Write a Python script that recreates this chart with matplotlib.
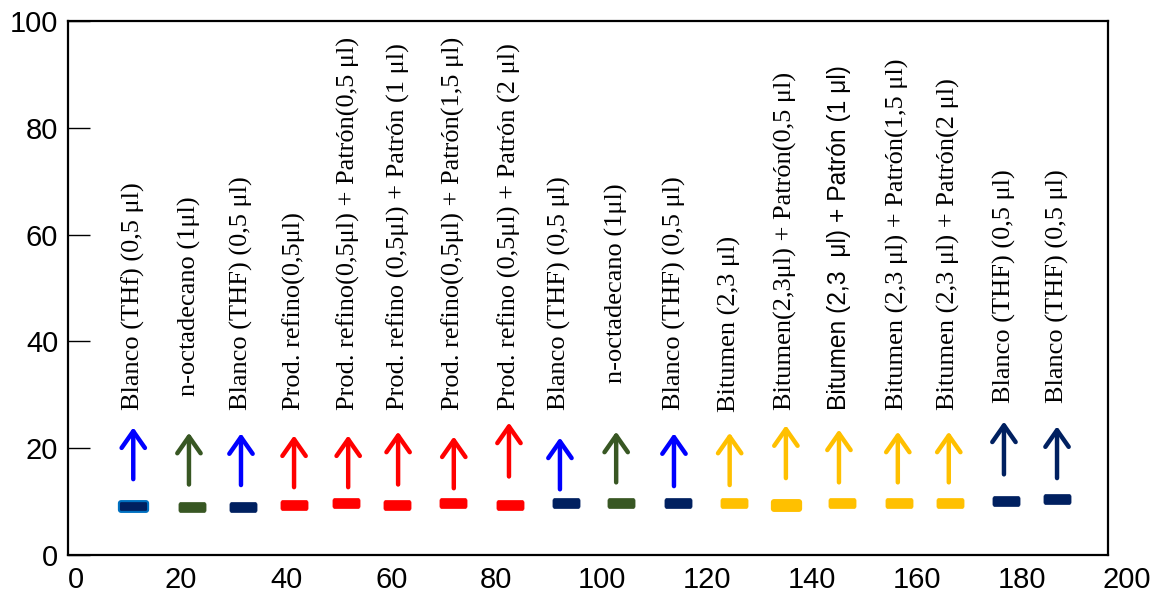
import numpy as np
import matplotlib
matplotlib.use("Agg")
import matplotlib.pyplot as plt
from matplotlib.path import Path

# datos
labels = ["Blanco (THf) (0,5 μl)", "n-octadecano (1μl)", "Blanco (THF) (0,5 μl)",
          "Prod. refino(0,5μl)", "Prod. refino(0,5μl) + Patrón(0,5 μl)",
          "Prod. refino (0,5μl) + Patrón (1 μl)", "Prod. refino(0,5μl) + Patrón(1,5 μl)",
          "Prod. refino (0,5μl) + Patrón (2 μl)", "Blanco (THF) (0,5 μl)",
          "n-octadecano (1μl)", "Blanco (THF) (0,5 μl)", "Bitumen (2,3 μl)",
          "Bitumen(2,3μl) + Patrón(0,5 μl)", "Bitumen (2,3  μl) + Patrón (1 μl)",
          "Bitumen (2,3 μl) + Patrón(1,5 μl)", "Bitumen (2,3 μl) + Patrón(2 μl)",
          "Blanco (THF) (0,5 μl)", "Blanco (THF) (0,5 μl)"]
x_mark = [10.9, 22.1, 31.8, 41.5, 51.4, 61.1, 71.7, 82.6, 93.2, 103.7,
          114.6, 125.2, 135.1, 145.8, 156.6, 166.3, 177.0, 186.7]
y_mark = [9.1, 9.0, 9.0, 9.3, 9.7, 9.3, 9.7, 9.3, 9.7, 9.7,
          9.7, 9.7, 9.3, 9.7, 9.7, 9.8, 10.1, 10.4]
x_arrow = [10.9, 21.5, 31.4, 41.5, 51.8, 61.3, 71.9, 82.4, 92.1, 102.8,
           113.8, 124.4, 135.1, 145.2, 156.4, 166.1, 176.6, 186.7]
arrow_base = [14.2, 13.2, 13.1, 12.7, 12.7, 13.2, 12.5, 14.7, 12.3, 13.6,
              12.9, 13.1, 14.4, 13.6, 13.6, 13.6, 15.1, 14.4]
arrow_tip = [23.9, 22.9, 22.8, 22.4, 22.4, 23.1, 22.2, 24.8, 22.0, 23.1,
             22.8, 22.9, 24.3, 23.5, 23.1, 23.1, 25.0, 24.1]
label_y = [27.2, 29.7, 27.2, 27.2, 27.2, 27.2, 27.2, 27.2, 27.2, 32.3,
           27.2, 26.7, 27.2, 27.2, 27.2, 27.2, 28.5, 28.5]
xticks = [0, 20, 40, 60, 80, 100, 120, 140, 160, 180, 200]

azul = '#0000FF'
verde = '#385723'
marino = '#002060'
rojo = '#FF0000'
oro = '#FFC000'
mark_col = [marino, verde, marino, rojo, rojo, rojo, rojo, rojo, marino, verde,
            marino, oro, oro, oro, oro, oro, marino, marino]
arrow_col = [azul, verde, azul, rojo, rojo, rojo, rojo, rojo, azul, verde,
             azul, oro, oro, oro, oro, oro, marino, marino]


def rect_redondo(w, h, r):
    # rectangulo con esquinas redondeadas como marcador
    pts = []
    for cx, cy, a0 in [(w/2 - r, h/2 - r, 0), (-w/2 + r, h/2 - r, 90),
                       (-w/2 + r, -h/2 + r, 180), (w/2 - r, -h/2 + r, 270)]:
        t = np.radians(np.linspace(a0, a0 + 90, 6))
        for tt in t:
            pts.append((cx + r*np.cos(tt), cy + r*np.sin(tt)))
    pts.append(pts[0])
    codes = [Path.MOVETO] + [Path.LINETO]*(len(pts) - 2) + [Path.CLOSEPOLY]
    return Path(pts, codes)


marcador = rect_redondo(2.7, 1.0, 0.2)

fig = plt.figure(figsize=(11.54, 5.96), dpi=100, facecolor='white')
ax = fig.add_axes([68/1154, 41/596, 1040/1154, 534/596])
ax.set_xlim(-1.52, 196.4)
ax.set_ylim(0, 100)

for i in range(len(labels)):
    big = i in (0, 12)
    ec = '#0070C0' if i == 0 else mark_col[i]
    ax.plot(x_mark[i], y_mark[i], marker=marcador, linestyle='none',
            markersize=21 if big else 19.5, markerfacecolor=mark_col[i],
            markeredgecolor=ec, markeredgewidth=1.5 if big else 0.5)
    ax.annotate('', xy=(x_arrow[i], arrow_tip[i]), xytext=(x_arrow[i], arrow_base[i]),
                arrowprops=dict(arrowstyle='->,head_length=0.6,head_width=0.42',
                                color=arrow_col[i], lw=3.2, mutation_scale=20,
                                shrinkA=0, shrinkB=0, capstyle='round',
                                joinstyle='round'))
    if i == 13:
        ax.text(x_arrow[i], label_y[i], labels[i], rotation=90, ha='center',
                va='bottom', fontsize=17.7, family='Liberation Sans')
    else:
        ax.text(x_arrow[i], label_y[i], labels[i], rotation=90, ha='center',
                va='bottom', fontsize=19, family='Liberation Serif')

ax.set_xticks([])
ax.set_yticks([0, 20, 40, 60, 80, 100])
ax.tick_params(axis='y', direction='in', length=16, width=1, pad=7, labelsize=21)
for lab in ax.get_yticklabels():
    lab.set_family('Liberation Sans')
for v in xticks:
    ax.annotate(str(v), (v, 0), xycoords=('data', 'axes fraction'), xytext=(0, -8),
                textcoords='offset points', ha='center', va='top', fontsize=21,
                family='Liberation Sans', annotation_clip=False)
for s in ax.spines.values():
    s.set_linewidth(1.6)

plt.savefig('out.png', dpi=100, facecolor='white')
